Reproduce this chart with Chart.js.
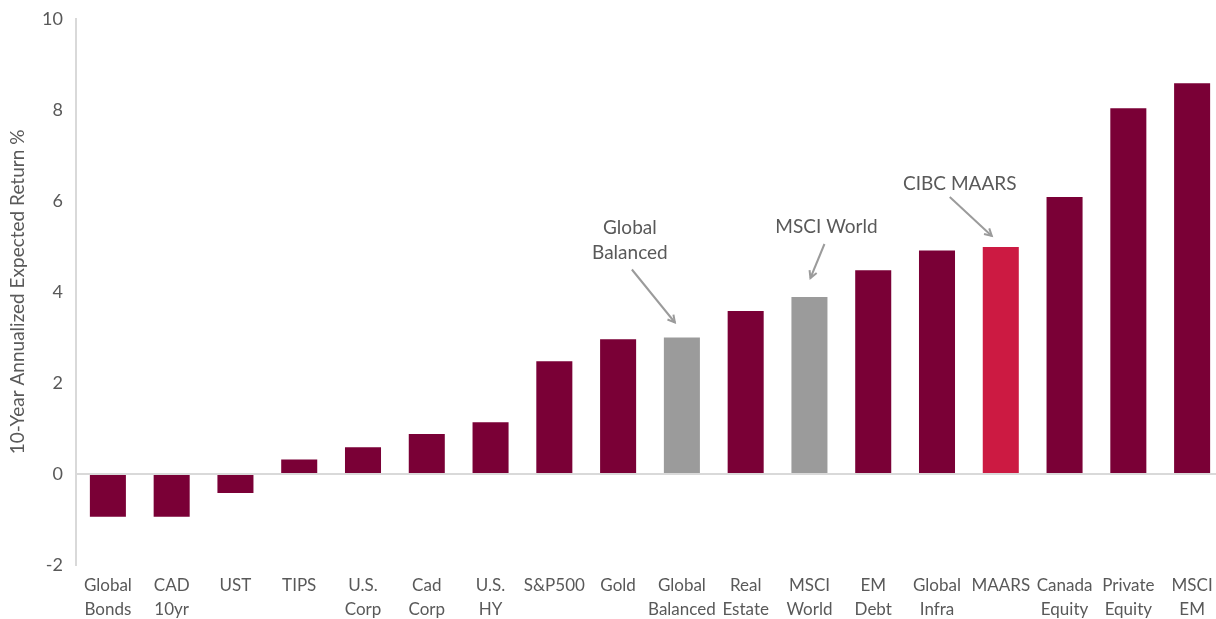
<!DOCTYPE html>
<html>
<head>
<meta charset="utf-8">
<script src="https://cdn.jsdelivr.net/npm/chart.js@4/dist/chart.umd.min.js"></script>
<style>
  html, body { margin: 0; padding: 0; background: #fff; overflow: hidden; }
  #wrap { width: 1224px; height: 619px; }
</style>
</head>
<body>
<div id="wrap"><canvas id="chart"></canvas></div>
<script>
// data
const categories = [
  ['Global', 'Bonds'], ['CAD', '10yr'], 'UST', 'TIPS', ['U.S.', 'Corp'], ['Cad', 'Corp'],
  ['U.S.', 'HY'], 'S&P500', 'Gold', ['Global', 'Balanced'], ['Real', 'Estate'], ['MSCI', 'World'],
  ['EM', 'Debt'], ['Global', 'Infra'], 'MAARS', ['Canada', 'Equity'], ['Private', 'Equity'], ['MSCI', 'EM']
];
const returns = [-0.94, -0.94, -0.42, 0.32, 0.59, 0.88, 1.14, 2.48, 2.96, 3.0, 3.58, 3.89, 4.48, 4.91, 4.99, 6.09, 8.04, 8.59];
const yTicks = [-2, 0, 2, 4, 6, 8, 10];
const highlight = { 9: 'gray', 11: 'gray', 14: 'red' };

const palette = { base: '#7a0036', gray: '#9b9b9b', red: '#cc1a42' };
const textColor = '#595959';
const fontFamily = "Lato, 'Open Sans', sans-serif";

// callouts pointing at bars (offsets in px from the bar top)
const callouts = [
  { index: 9, lines: ['Global', 'Balanced'], tx: -52, ty: -110, from: [-50, -68], to: [-7, -15] },
  { index: 11, lines: ['MSCI World'], tx: 17, ty: -70, from: [15, -53], to: [1, -19] },
  { index: 14, lines: ['CIBC MAARS'], tx: -41, ty: -63, from: [-51, -50], to: [-9, -11] }
];

const calloutPlugin = {
  id: 'callouts',
  afterDatasetsDraw(chart) {
    const ctx = chart.ctx;
    const meta = chart.getDatasetMeta(0);
    ctx.save();
    callouts.forEach(c => {
      const bar = meta.data[c.index];
      const bx = bar.x, by = bar.y;
      ctx.fillStyle = textColor;
      ctx.font = '19px ' + fontFamily;
      ctx.textAlign = 'center';
      ctx.textBaseline = 'middle';
      c.lines.forEach((l, i) => ctx.fillText(l, bx + c.tx, by + c.ty + i * 25));
      const x1 = bx + c.from[0], y1 = by + c.from[1];
      const x2 = bx + c.to[0], y2 = by + c.to[1];
      ctx.strokeStyle = '#9b9b9b';
      ctx.lineWidth = 2;
      ctx.beginPath();
      ctx.moveTo(x1, y1);
      ctx.lineTo(x2, y2);
      ctx.stroke();
      const a = Math.atan2(y2 - y1, x2 - x1);
      const h = 8;
      ctx.beginPath();
      ctx.moveTo(x2 - h * Math.cos(a - 0.5), y2 - h * Math.sin(a - 0.5));
      ctx.lineTo(x2, y2);
      ctx.lineTo(x2 - h * Math.cos(a + 0.5), y2 - h * Math.sin(a + 0.5));
      ctx.stroke();
    });
    ctx.restore();
  }
};

new Chart(document.getElementById('chart'), {
  type: 'bar',
  data: {
    labels: categories,
    datasets: [{
      data: returns,
      backgroundColor: returns.map((v, i) => palette[highlight[i] || 'base']),
      barPercentage: 0.565,
      categoryPercentage: 1
    }]
  },
  options: {
    responsive: true,
    maintainAspectRatio: false,
    animation: false,
    layout: { padding: { top: 19, left: 6, right: 0, bottom: 0 } },
    plugins: { legend: { display: false }, tooltip: { enabled: false } },
    scales: {
      x: {
        grid: { display: false },
        border: { display: false },
        ticks: {
          color: textColor,
          font: { family: fontFamily, size: 17, lineHeight: 1.4 },
          maxRotation: 0,
          autoSkip: false,
          padding: 1
        },
        afterFit(scale) { scale.height = 54; }
      },
      y: {
        min: -2,
        max: 10,
        afterBuildTicks(scale) { scale.ticks = yTicks.map(v => ({ value: v })); },
        grid: {
          drawTicks: false,
          color: c => (c.tick && c.tick.value === 0 ? '#d9d9d9' : 'rgba(0,0,0,0)'),
          lineWidth: 2
        },
        border: { display: true, color: '#d9d9d9', width: 2 },
        ticks: {
          color: textColor,
          font: { family: fontFamily, size: 18 },
          padding: 13
        },
        title: {
          display: true,
          text: '10-Year Annualized Expected Return %',
          color: textColor,
          font: { family: fontFamily, size: 19 },
          padding: 0
        },
        afterFit(scale) {
          scale.width = 70;
          scale.paddingTop = 0;
        }
      }
    }
  },
  plugins: [calloutPlugin]
});
</script>
</body>
</html>
